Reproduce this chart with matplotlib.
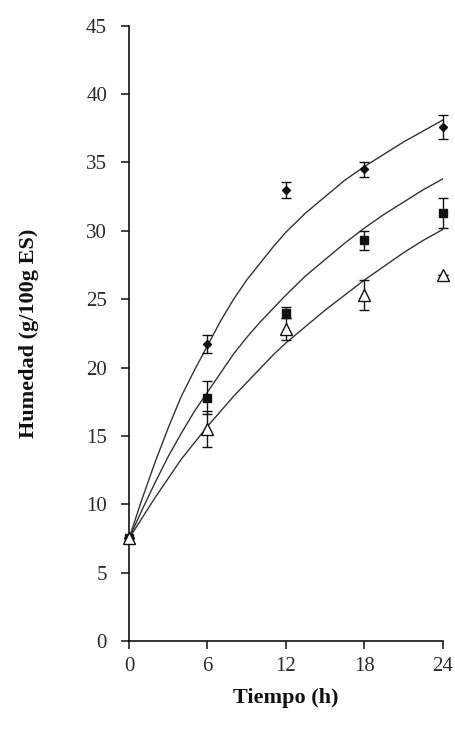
import matplotlib
matplotlib.use("Agg")
import matplotlib.pyplot as plt

# measured points (mean +/- sd)
t_obs = [0, 6, 12, 18, 24]
rombo = [7.5, 21.7, 33.0, 34.5, 37.6]
rombo_err = [0, 0.65, 0.6, 0.55, 0.9]
cuadro = [7.5, 17.8, 24.0, 29.3, 31.3]
cuadro_err = [0, 1.2, 0.4, 0.7, 1.1]
triang = [7.5, 15.5, 22.8, 25.3, 26.8]
triang_err = [0, 1.3, 0.8, 1.1, 0]

# fitted curves
t_fit = [0, 1, 2, 3, 4, 5, 6, 7, 8, 9, 10, 11, 12, 13.5, 15, 16.5, 18, 19.5, 21, 22.5, 24]
fit_rombo = [7.5, 10.4, 13.1, 15.6, 17.9, 19.8, 21.6, 23.4, 25.0, 26.4, 27.6, 28.8, 29.9,
             31.3, 32.5, 33.7, 34.7, 35.6, 36.5, 37.3, 38.1]
fit_cuadro = [7.5, 9.6, 11.6, 13.5, 15.2, 16.8, 18.2, 19.6, 21.0, 22.2, 23.3, 24.3, 25.3,
              26.7, 27.9, 29.1, 30.2, 31.2, 32.1, 33.0, 33.8]
fit_triang = [7.5, 9.0, 10.5, 11.9, 13.3, 14.5, 15.7, 16.8, 17.9, 18.9, 19.9, 20.9, 21.8,
              23.0, 24.2, 25.3, 26.4, 27.4, 28.4, 29.3, 30.1]

xticks = [0, 6, 12, 18, 24]
yticks = list(range(0, 50, 5))

INK = "#111111"
LINE = "#333333"
TICKTXT = "#2a2a2a"

plt.rcParams["font.family"] = ["Liberation Serif", "DejaVu Serif"]

fig = plt.figure(figsize=(4.56, 7.29), dpi=100)
ax = fig.add_axes([0.283, 0.1207, 0.688, 0.844])

for yf in (fit_rombo, fit_cuadro, fit_triang):
    ax.plot(t_fit, yf, color=LINE, lw=1.0, zorder=2)

ek = dict(ecolor=INK, elinewidth=1.0, capsize=3.8, capthick=1.0, ls="none", clip_on=False, zorder=3)
ax.errorbar(t_obs, rombo, yerr=rombo_err, marker="D", ms=4.2, mfc=INK, mec=INK, **ek)
ax.errorbar(t_obs, cuadro, yerr=cuadro_err, marker="s", ms=5.5, mfc=INK, mec=INK, **ek)
ax.errorbar(t_obs, triang, yerr=triang_err, marker="^", ms=8, mfc="white", mec=INK, mew=1.0, **ek)

ax.set_xlim(0, 24)
ax.set_ylim(0, 45)
ax.set_xticks(xticks)
ax.set_yticks(yticks)
ax.spines["top"].set_visible(False)
ax.spines["right"].set_visible(False)
for s in ("left", "bottom"):
    ax.spines[s].set_linewidth(1.2)
    ax.spines[s].set_color(INK)
ax.tick_params(direction="out", length=5.8, width=1.1, color=INK, labelsize=15,
               labelcolor=TICKTXT)
ax.tick_params(axis="y", pad=10)
ax.tick_params(axis="x", pad=6)

ax.set_xlabel("Tiempo (h)", fontsize=16, fontweight="bold", color=INK, labelpad=8)
ax.set_ylabel("Humedad (g/100g ES)", fontsize=16, fontweight="bold", color=INK, labelpad=34)

fig.savefig("out.png", dpi=100)
